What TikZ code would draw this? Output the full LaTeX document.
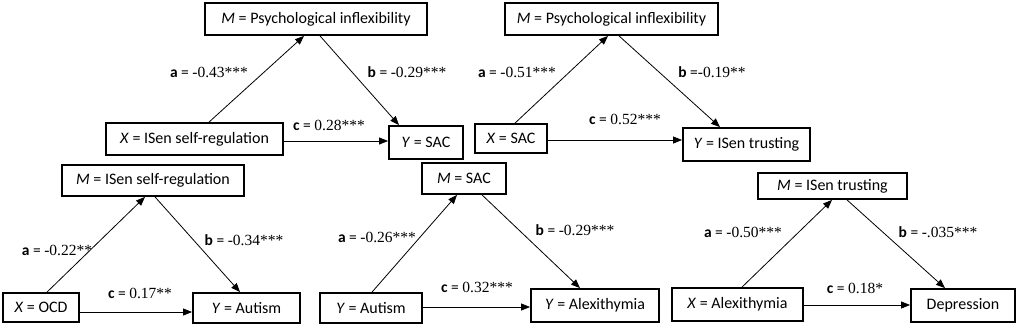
\documentclass[tikz,border=0pt]{standalone}
\usepackage{fontspec}
\setmainfont{Carlito}
\newfontfamily\estfont{Liberation Serif}
\usetikzlibrary{arrows.meta}
\newcommand{\est}[1]{{\estfont #1}}
\tikzset{
  every picture/.style={font=\fontsize{16}{19}\selectfont},
  var box/.style={draw=black, line width=1.8pt, fill=white, inner sep=0pt,
    align=center},
  path arrow/.style={-{Triangle[length=9pt,width=7pt]}, draw=black,
    line width=0.8pt},
  coef/.style={font=\fontsize{15.5}{18}\selectfont, inner sep=0pt}
}

\begin{document}
\begin{tikzpicture}[x=1pt,y=-1pt]
  \useasboundingbox (0,0) rectangle (1021,330);
  % top left: ISen self-regulation -> SAC
  \node[var box, minimum width=222pt, minimum height=32pt] (m1) at (316,19) {\textit{M} = Psychological inflexibility};
  \node[var box, minimum width=177pt, minimum height=32pt] (x1) at (194.5,139) {\textit{X} = ISen self-regulation};
  \node[var box, minimum width=74pt, minimum height=33pt] (y1) at (426,142.5) {\textit{Y} = SAC};
  % top right: SAC -> ISen trusting
  \node[var box, minimum width=213pt, minimum height=32pt] (m2) at (611.5,19) {\textit{M} = Psychological inflexibility};
  \node[var box, minimum width=72pt, minimum height=29pt] (x2) at (511,138.5) {\textit{X} = SAC};
  \node[var box, minimum width=127pt, minimum height=33pt] (y2) at (746.5,144.5) {\textit{Y} = ISen trusting};
  % bottom left: OCD -> Autism
  \node[var box, minimum width=182pt, minimum height=31pt] (m3) at (153,180.5) {\textit{M} = ISen self-regulation};
  \node[var box, minimum width=76pt, minimum height=29pt] (x3) at (41,307.5) {\textit{X} = OCD};
  \node[var box, minimum width=107pt, minimum height=30pt] (y3) at (246.5,308) {\textit{Y} = Autism};
  % bottom middle: Autism -> Alexithymia
  \node[var box, minimum width=84pt, minimum height=31pt] (m4) at (464,178.5) {\textit{M} = SAC};
  \node[var box, minimum width=102pt, minimum height=30pt] (x4) at (371,308) {\textit{Y} = Autism};
  \node[var box, minimum width=128pt, minimum height=33pt] (y4) at (595,305.5) {\textit{Y} = Alexithymia};
  % bottom right: Alexithymia -> Depression
  \node[var box, minimum width=149pt, minimum height=26pt] (m5) at (832.5,186) {\textit{M} = ISen trusting};
  \node[var box, minimum width=131pt, minimum height=33pt] (x5) at (737.5,304.5) {\textit{X} = Alexithymia};
  \node[var box, minimum width=104pt, minimum height=33pt] (y5) at (963,305.5) {Depression};

  % paths a, b, c
  \foreach \p/\as/\ae/\bs/\be/\cs in {1/14.5/-12/4/-27/-2, 2/4/-3.5/7.5/-26.5/-1.5,
      3/6/-8/2/-6.5/-4.5, 4/1/-7/18/-15/1, 5/4.5/-0.5/14.5/-18/-0.5}{
    \draw[path arrow] ([xshift=\as pt]x\p.north) -- ([xshift=\ae pt]m\p.south);
    \draw[path arrow] ([xshift=\bs pt]m\p.south) -- ([xshift=\be pt]y\p.north);
    \draw[path arrow] ([yshift=\cs pt]x\p.east) -- ([yshift=\cs pt]x\p.east -| y\p.west);
  }

  \node[coef] (a1) at (209,72) {\textbf{a} = \est{-0.43***}};
  \node[coef] (b1) at (407,72) {\textbf{b} = \est{-0.29***}};
  \node[coef] (c1) at (329,125) {\textbf{c} = \est{0.28***}};
  \node[coef] (a2) at (517,72) {\textbf{a} = \est{-0.51***}};
  \node[coef] (b2) at (712,72) {\textbf{b} =\est{-0.19**}};
  \node[coef] (c2) at (625,119) {\textbf{c} = \est{0.52***}};
  \node[coef] (a3) at (57,250) {\textbf{a} = \est{-0.22**}};
  \node[coef] (b3) at (244,240) {\textbf{b} = \est{-0.34***}};
  \node[coef] (c3) at (140,293) {\textbf{c} = \est{0.17**}};
  \node[coef] (a4) at (377,237) {\textbf{a} = \est{-0.26***}};
  \node[coef] (b4) at (575,230) {\textbf{b} = \est{-0.29***}};
  \node[coef] (c4) at (477,287) {\textbf{c} = \est{0.32***}};
  \node[coef] (a5) at (743,232) {\textbf{a} = \est{-0.50***}};
  \node[coef] (b5) at (938,232) {\textbf{b} = \est{-.035***}};
  \node[coef] (c5) at (855,288) {\textbf{c} = \est{0.18*}};
\end{tikzpicture}
\end{document}
